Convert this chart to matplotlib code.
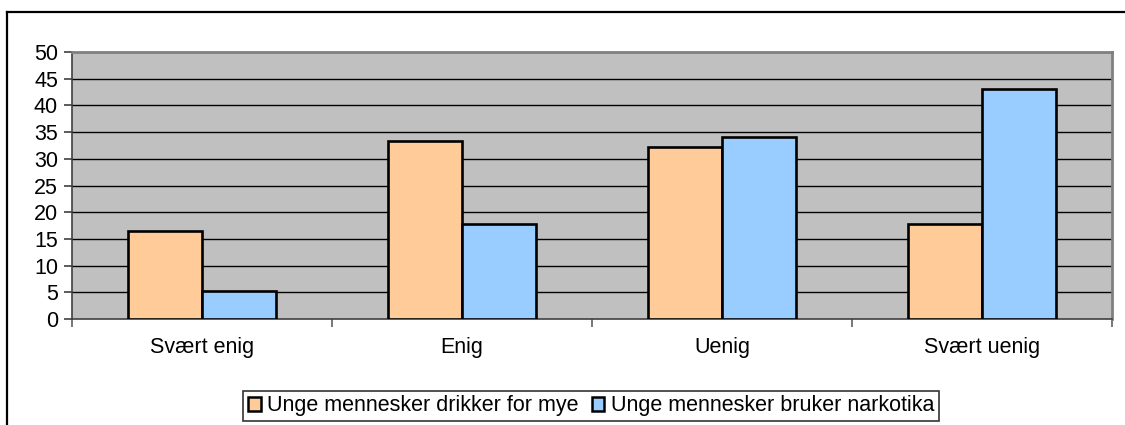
import matplotlib
matplotlib.use("Agg")
import matplotlib.pyplot as plt
from matplotlib.patches import Patch
from matplotlib.lines import Line2D
import numpy as np

categories = ["Svært enig", "Enig", "Uenig", "Svært uenig"]
series_names = ["Unge mennesker drikker for mye", "Unge mennesker bruker narkotika"]
drikker = [16.5, 33.3, 32.2, 17.8]
narkotika = [5.3, 17.7, 34.0, 43.1]
colors = ["#FFCC99", "#99CCFF"]
yticks = [0, 5, 10, 15, 20, 25, 30, 35, 40, 45, 50]

plt.rcParams['font.family'] = ['Liberation Sans', 'DejaVu Sans']
FS = 15.5

W, H = 1125, 425
fig = plt.figure(figsize=(W / 100, H / 100), dpi=100)
ax = fig.add_axes([72 / W, 1 - 319 / H, (1112 - 72) / W, (319 - 52) / H])
ax.set_facecolor("#C0C0C0")

x = np.arange(len(categories))
bw = 1 / 3.5
ax.bar(x - bw / 2, drikker, bw, color=colors[0], edgecolor="black", linewidth=1.9, zorder=3)
ax.bar(x + bw / 2, narkotika, bw, color=colors[1], edgecolor="black", linewidth=1.9, zorder=3)

ax.set_xlim(-0.5, len(categories) - 0.5)
ax.set_ylim(0, 50)
ax.set_yticks(yticks)
ax.set_yticklabels([str(t) for t in yticks], fontsize=FS)
for t in yticks[1:-1]:
    ax.axhline(t, color="black", linewidth=1.0, zorder=1)

ax.set_xticks(x)
ax.set_xticklabels(categories, fontsize=FS)
ax.tick_params(axis="x", length=0, pad=13)
ax.set_xticks(np.arange(-0.5, len(categories)), minor=True)
ax.tick_params(axis="x", which="minor", length=6, width=1.2, color="#606060", direction="out")
ax.tick_params(axis="y", length=6, width=1.2, color="#404040", direction="out", pad=4)

for s in ax.spines.values():
    s.set_color("#808080")
    s.set_linewidth(2)
ax.spines["bottom"].set_color("#404040")
ax.spines["left"].set_color("#404040")
ax.spines["left"].set_linewidth(1.2)
ax.spines["bottom"].set_linewidth(1.2)

handles = [Patch(facecolor=colors[0], edgecolor="black", linewidth=1.8),
           Patch(facecolor=colors[1], edgecolor="black", linewidth=1.8)]
leg = fig.legend(handles, series_names, loc="center", bbox_to_anchor=(591 / W, 1 - 406 / H),
                 ncol=2, fontsize=FS, frameon=True, fancybox=False, handlelength=0.6,
                 handleheight=0.6, handletextpad=0.3, columnspacing=0.6, borderpad=0.2,
                 borderaxespad=0)
leg.get_frame().set_edgecolor("black")
leg.get_frame().set_linewidth(1.2)

fig.add_artist(Line2D([7 / W, 1.0], [1 - 12 / H, 1 - 12 / H], transform=fig.transFigure,
                      color="black", linewidth=1.6))
fig.add_artist(Line2D([7 / W, 7 / W], [0.0, 1 - 12 / H], transform=fig.transFigure,
                      color="black", linewidth=1.6))

fig.savefig("out.png", dpi=100)
